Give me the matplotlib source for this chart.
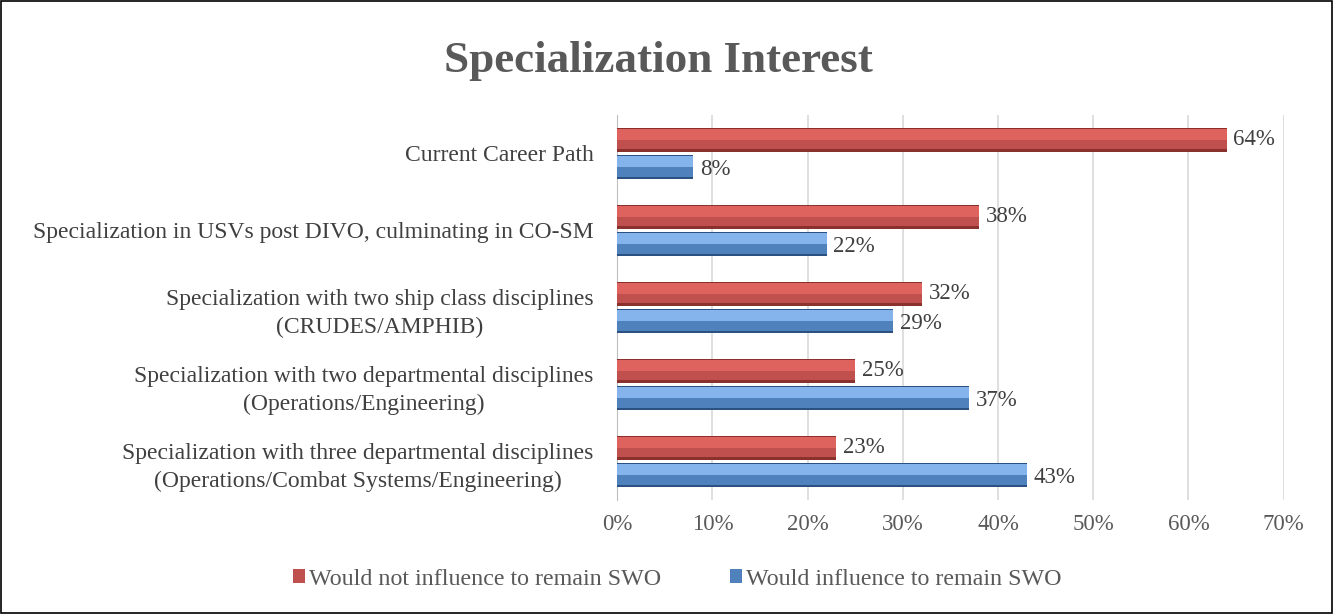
import matplotlib.pyplot as plt
from matplotlib.patches import Rectangle
from matplotlib.ticker import PercentFormatter

plt.rcParams['font.family'] = ['Liberation Serif', 'DejaVu Serif']

categories = [
    'Current Career Path',
    'Specialization in USVs post DIVO, culminating in CO-SM',
    'Specialization with two ship class disciplines\n(CRUDES/AMPHIB)',
    'Specialization with two departmental disciplines\n(Operations/Engineering)',
    'Specialization with three departmental disciplines\n(Operations/Combat Systems/Engineering)',
]
not_influence = [0.64, 0.38, 0.32, 0.25, 0.23]
influence = [0.08, 0.22, 0.29, 0.37, 0.43]
labels_not = ['64%', '38%', '32%', '25%', '23%']
labels_inf = ['8%', '22%', '29%', '37%', '43%']

fig = plt.figure(figsize=(13.33, 6.14), dpi=100)
ax = fig.add_axes([0.463, 0.186, 0.500, 0.627])

n = len(categories)
pos = list(range(n - 1, -1, -1))
h = 0.31
off = 0.178

def bevel_bars(y, vals, edge, body, light, label):
    # dark outline, darker lower body, lighter upper half -> bevel look
    ax.barh(y, vals, height=h, color=edge, zorder=3)
    ax.barh([v + h * 0.03 for v in y], vals, height=h * 0.86, color=body, zorder=4,
            label=label)
    ax.barh([v + h * 0.22 for v in y], vals, height=h * 0.48, color=light, zorder=5)

y_not = [p + off for p in pos]
y_inf = [p - off for p in pos]
bevel_bars(y_not, not_influence, '#8A312E', '#C0504D', '#DE625E', 'Would not influence to remain SWO')
bevel_bars(y_inf, influence, '#2B5182', '#4F81BD', '#85B3EC', 'Would influence to remain SWO')

for y, v, t in zip(y_not, not_influence, labels_not):
    ax.text(v + 0.007, y, t, va='center', ha='left', fontsize=16.5, color='#404040')
for y, v, t in zip(y_inf, influence, labels_inf):
    ax.text(v + 0.007, y - 0.03, t, va='center', ha='left', fontsize=16.5, color='#404040')

ax.set_xlim(0, 0.70)
ax.set_ylim(-0.5, n - 0.5)
ax.set_xticks([i / 10 for i in range(8)])
ax.xaxis.set_major_formatter(PercentFormatter(1.0, decimals=0))
ax.set_yticks(pos)
ax.set_yticklabels(categories, fontsize=17, color='#404040', ha='right')
ax.tick_params(axis='x', colors='#595959', labelsize=16.5, length=0, pad=10)
ax.tick_params(axis='y', length=0, pad=17)
for lab in ax.get_yticklabels():
    lab.set_multialignment('center')
    lab.set_linespacing(1.45)
ax.grid(axis='x', color='#D9D9D9', linewidth=1.2, zorder=0)
for s in ['top', 'right', 'bottom']:
    ax.spines[s].set_visible(False)
ax.spines['left'].set_color('#BFBFBF')

fig.text(0.494, 0.9, 'Specialization Interest', ha='center', va='center',
         fontsize=32.5, fontweight='bold', color='#595959')

handles, labs = ax.get_legend_handles_labels()
fig.legend(handles, labs, loc='center', bbox_to_anchor=(0.508, 0.057), ncol=2,
           frameon=False, fontsize=17.3, handlelength=0.5, handleheight=0.5,
           handletextpad=0.15, columnspacing=2.9, labelcolor='#595959')

fig.patches.append(Rectangle((0.0008, 0.0015), 0.9985, 0.997, transform=fig.transFigure,
                             fill=False, edgecolor='black', linewidth=1.2))

fig.savefig('out.png', dpi=100)
